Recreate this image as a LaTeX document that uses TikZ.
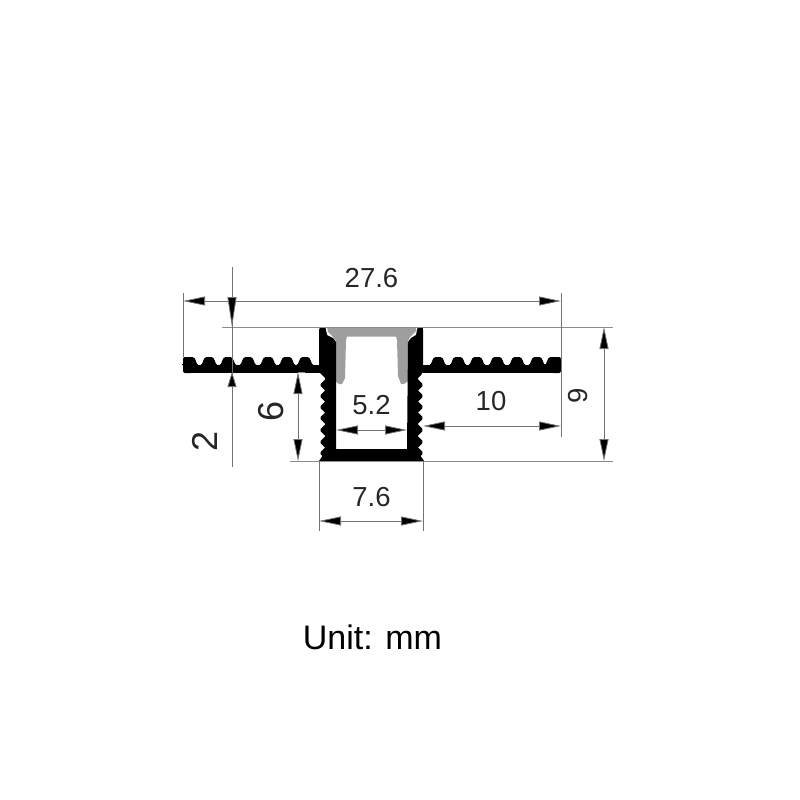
\documentclass[tikz,border=0pt]{standalone}
\usepackage{fontspec}
\setmainfont{Liberation Sans}
\usetikzlibrary{arrows.meta}
\tikzset{
  dimline/.style={draw=black!55,line width=0.8pt},
  extline/.style={draw=black!45,line width=0.9pt},
  bothtip/.style={{Triangle[length=22pt,width=9pt,fill=black]}-{Triangle[length=22pt,width=9pt,fill=black]}},
  longtip/.style={-{Triangle[length=30pt,width=9pt,fill=black]}},
  shorttip/.style={-{Triangle[length=15pt,width=9pt,fill=black]}},
  label/.style={font=\fontsize{27.5}{30}\selectfont,text=black!85,inner sep=0pt},
  biglabel/.style={font=\fontsize{36}{38}\selectfont,text=black!85,inner sep=0pt,rotate=90},
  profile/.style={fill=black,draw=none},
  diffuser/.style={fill=black!38,draw=none}
}
% one scalloped bump at x = #1
\newcommand{\bumpat}[1]{
  \path[profile] (#1-8.5,365) .. controls (#1-6,365) and (#1-6,357) .. (#1-2.5,357) -- (#1+2.5,357) .. controls (#1+6,357) and (#1+6,365) .. (#1+8.5,365) -- cycle;
}
% one tooth of a wall, pointing towards x = #2 from x = #3, at height #1
\newcommand{\toothat}[3]{
  \path[profile,rounded corners=1.5pt] (#3,#1-6.5) -- (#2,#1) -- (#3,#1+6.5) -- cycle;
}
\begin{document}
\begin{tikzpicture}[x=1pt,y=-1pt]
\useasboundingbox (0,0) rectangle (800,800);
% named dimension points
\coordinate (L) at (183,301); \coordinate (R) at (561,301);
\coordinate (Lt) at (183,293); \coordinate (Lb) at (183,357);
\coordinate (Rt) at (561,293); \coordinate (Rb) at (561,437);
\coordinate (Tl) at (222,327); \coordinate (Tr) at (613,327);
\coordinate (Bl) at (290,461); \coordinate (Br) at (613,461);
\coordinate (Ft) at (232,267); \coordinate (Fb) at (232,467);
\coordinate (Fa) at (232,327); \coordinate (Fc) at (232,372);
\coordinate (Fd) at (232,290); \coordinate (Fe) at (232,395);
\coordinate (S) at (298,372); \coordinate (Se) at (305,372); \coordinate (Sb) at (298,461);
\coordinate (Nt) at (604,327); \coordinate (Nb) at (604,461);
\coordinate (Wl) at (336,430); \coordinate (Wr) at (407,430);
\coordinate (Tl2) at (423,426); \coordinate (Tr2) at (561,426);
\coordinate (Ol) at (319,521); \coordinate (Or) at (423,521);
\coordinate (Olt) at (319,461); \coordinate (Olb) at (319,531);
\coordinate (Ort) at (423,461); \coordinate (Orb) at (423,531);
% diffuser
\path[diffuser] (327,327) -- (416,327) -- (416,331) -- (410,337) -- (408,341) -- (408,372) -- (411,376) -- (411,379) -- (404,384) -- (401,384) -- (398,376) -- (397,340) -- (396,336.5) -- (347,336.5) -- (346,340) -- (345,378) -- (342,384) -- (339,384) -- (332,379) -- (332,375) -- (336,371) -- (336,341) -- (333,337) -- (328,332) -- cycle;
% profile: walls and base
\path[profile] (319,330) .. controls (319,328) and (320,327) .. (322,327) -- (324,327) .. controls (325.5,327) and (326,328) .. (326,330) -- (327,335) -- (333,338) -- (336,342) -- (336,449) -- (407,449) -- (408,342) -- (411,338) -- (416,335) -- (417,330) .. controls (417,328) and (418,327) .. (419,327) -- (421,327) .. controls (423,327) and (423,328) .. (423,330) -- (423,372) -- (421,375) -- (418,378) -- (418,461) -- (325,461) -- (325,378) -- (322,375) -- (319,372) -- cycle;
% wall serrations
\foreach \y in {385,396,407,418,430,442,453}{
  \toothat{\y}{319.5}{326}
  \toothat{\y}{423.5}{417}
}
\path[profile] (319,461) -- (323,455) -- (328,455) -- (328,461) -- cycle;
\path[profile] (424,461) -- (420,455) -- (415,455) -- (415,461) -- cycle;
% flanges
\path[profile,rounded corners=2pt] (183,373) -- (183,357) -- (193,357) -- (193,373) -- cycle;
\path[profile,rounded corners=2pt] (552,373) -- (552,357) -- (561,357) -- (561,373) -- cycle;
\path[profile] (185,364.5) rectangle (320,373);
\path[profile] (423,364.5) rectangle (559,373);
\foreach \x in {190,209,228,248,268,287,305,438,458,477,497,517,537,553}{
  \bumpat{\x}
}
% extension lines
\draw[extline] (Tl) -- (Tr);
\draw[extline] (Bl) -- (Br);
\draw[extline] (S) -- (Se);
\draw[dimline] (Lt) -- (Lb);
\draw[dimline] (Rt) -- (Rb);
\draw[dimline] (Olt) -- (Olb);
\draw[dimline] (Ort) -- (Orb);
\draw[dimline] (Ft) -- (Fb);
% dimension arrows
\draw[dimline,bothtip] (L) -- (R);
\draw[dimline,longtip] (Fd) -- (Fa);
\draw[dimline,shorttip] (Fe) -- (Fc);
\draw[dimline,bothtip] (S) -- (Sb);
\draw[dimline,bothtip] (Nt) -- (Nb);
\draw[dimline,bothtip] (Wl) -- (Wr);
\draw[dimline,bothtip] (Tl2) -- (Tr2);
\draw[dimline,bothtip] (Ol) -- (Or);
% labels
\node[label] (a) at (371.5,278) {27.6};
\node[label] (b) at (371.5,405) {5.2};
\node[label] (c) at (491,401) {10};
\node[label] (d) at (371.5,497) {7.6};
\node[biglabel] (e) at (271,411) {6};
\node[biglabel] (f) at (205,441) {2};
\node[label,rotate=90] (g) at (578,396) {9};
\node[font=\fontsize{34}{36}\selectfont,text=black,inner sep=0pt] (h) at (372.5,637) {Unit: mm};
\end{tikzpicture}
\end{document}
